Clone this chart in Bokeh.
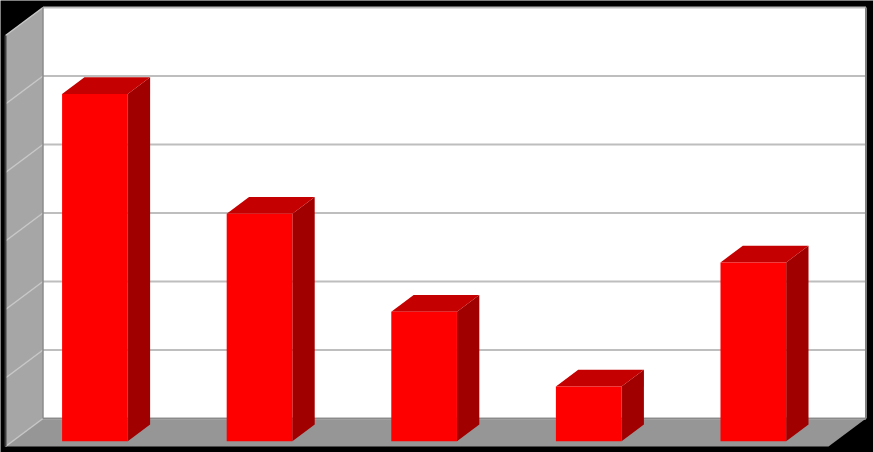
from bokeh.plotting import figure
from bokeh.models import Range1d
from bokeh.embed import file_html
from bokeh.resources import INLINE

# ---- data ----
categories = ["A", "B", "C", "D", "E"]
values = [50.7, 33.2, 18.9, 8.0, 26.1]
y_ticks = [0, 10, 20, 30, 40, 50, 60]

# ---- 3D oblique projection parameters (data units) ----
N = len(categories)
YMAX = 60
DX = 0.2278      # x shift for full depth (category units)
DY = 4.088       # y shift for full depth (value units)
D0, D1 = 0.19, 0.786   # bar depth span
HALF = 0.1995          # bar half width (gap width 150%)

def proj(x, v, d):
    return x + d * DX, v + d * DY

W, H = 873, 452
p = figure(width=W, height=H, output_backend="svg", toolbar_location=None,
           x_range=Range1d(-0.0304, 5.2734), y_range=Range1d(-0.876, 65.11),
           min_border=0, background_fill_color="black", border_fill_color="black",
           outline_line_color=None)
p.axis.visible = False
p.grid.visible = False

def quad(pts):
    xs, ys = zip(*[proj(*q) for q in pts])
    return list(xs), list(ys)

# side wall
xs, ys = quad([(0, 0, 0), (0, YMAX, 0), (0, YMAX, 1), (0, 0, 1)])
p.patch(xs, ys, fill_color="#A6A6A6", line_color=None)
# floor
xs, ys = quad([(0, 0, 0), (N, 0, 0), (N, 0, 1), (0, 0, 1)])
p.patch(xs, ys, fill_color="#969696", line_color=None)
# back wall
xs, ys = quad([(0, 0, 1), (N, 0, 1), (N, YMAX, 1), (0, YMAX, 1)])
p.patch(xs, ys, fill_color="white", line_color=None)

# gridlines on back wall and side wall
for t in y_ticks:
    a = proj(0, t, 1); b = proj(N, t, 1)
    p.line([a[0], b[0]], [a[1], b[1]], line_color="#BEBEBE", line_width=2)
    c = proj(0, t, 0)
    p.line([c[0], a[0]], [c[1], a[1]], line_color="#C8C8C8", line_width=1.5)

# wall edges
a = proj(N, 0, 1); b = proj(N, YMAX, 1)
p.line([a[0], b[0]], [a[1], b[1]], line_color="#808080", line_width=2)
a = proj(0, 0, 1); b = proj(0, YMAX, 1)
p.line([a[0], b[0]], [a[1], b[1]], line_color="#8C8C8C", line_width=1.5)
a = proj(0, 0, 0); b = proj(0, YMAX, 0)
p.line([a[0], b[0]], [a[1], b[1]], line_color="#404040", line_width=2)
a = proj(0, 0, 1); b = proj(N, 0, 1)
p.line([a[0], b[0]], [a[1], b[1]], line_color="#8A8A8A", line_width=1.5)

# bars
for i, v in enumerate(values):
    x0 = i + 0.5 - HALF
    x1 = i + 0.5 + HALF
    xs, ys = quad([(x1, 0, D0), (x1, v, D0), (x1, v, D1), (x1, 0, D1)])
    p.patch(xs, ys, fill_color="#A00000", line_color=None)
    xs, ys = quad([(x0, v, D0), (x1, v, D0), (x1, v, D1), (x0, v, D1)])
    p.patch(xs, ys, fill_color="#C40000", line_color=None)
    xs, ys = quad([(x0, 0, D0), (x1, 0, D0), (x1, v, D0), (x0, v, D0)])
    p.patch(xs, ys, fill_color="#FF0000", line_color=None)

html = file_html(p, INLINE)
html = html.replace("<body>", '<body style="background:#000000;">', 1)
open("out.html", "w").write(html)
